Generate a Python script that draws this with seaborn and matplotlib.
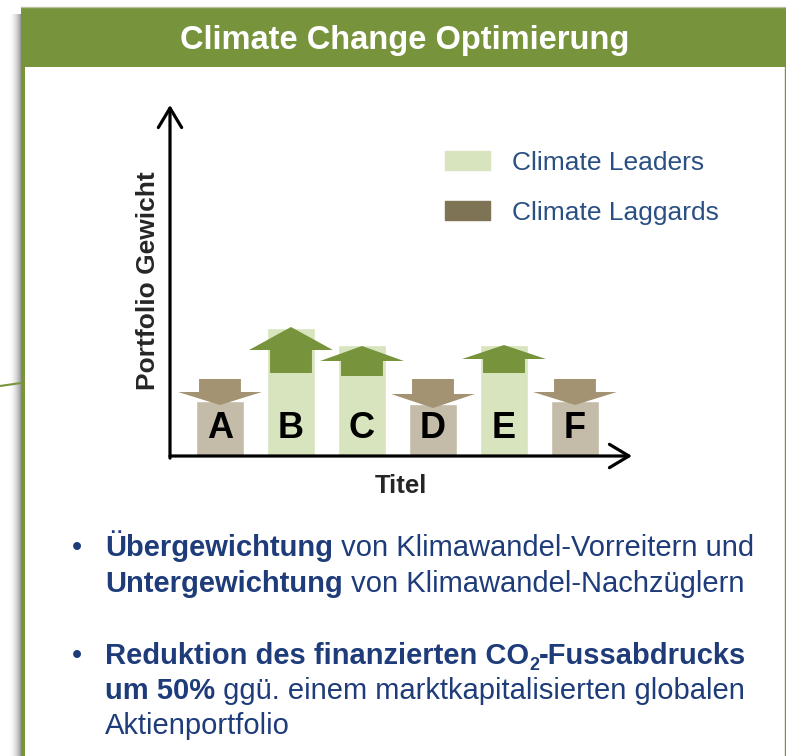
# plot.py
import seaborn as sns
import matplotlib.pyplot as plt
import pandas as pd
from matplotlib.patches import Rectangle, Patch

sns.set_style("white")
plt.rcParams['font.family'] = ['Liberation Sans', 'DejaVu Sans']

# data (portfolio weight, arbitrary units)
categories = ["A", "B", "C", "D", "E", "F"]
groups = ["Climate Laggards", "Climate Leaders", "Climate Leaders",
          "Climate Laggards", "Climate Leaders", "Climate Laggards"]
weights = [5.5, 12.8, 11.1, 5.2, 11.1, 5.5]
arrow_from = [7.7, 8.3, 8.0, 7.7, 8.3, 7.7]
arrow_to = [5.1, 12.9, 11.0, 4.8, 11.1, 5.1]
head_len = [1.3, 2.3, 1.5, 1.4, 1.4, 1.3]

legend_labels = ["Climate Leaders", "Climate Laggards"]
title = "Climate Change Optimierung"

GREEN = "#77933C"
LEADER_BAR = "#D7E4BD"
LAGGARD_BAR = "#C4BCA9"
LAGGARD_ARROW = "#A39372"
LAGGARD_LEGEND = "#7F7355"
BLUE = "#1F3C7A"

df = pd.DataFrame({"Titel": categories, "Gewicht": weights, "Gruppe": groups})

W, H = 786, 756
fig = plt.figure(figsize=(W / 100, H / 100), dpi=100)

# background layer in pixel coordinates
bg = fig.add_axes([0, 0, 1, 1], zorder=0)
bg.set_xlim(0, W)
bg.set_ylim(H, 0)
bg.axis("off")

# shadow left of the panel
for i in range(13):
    g = 1.0 - 0.38 * (i / 12) ** 2
    bg.add_patch(Rectangle((8 + i, 14), 1, H, color=(g, g, g), lw=0))
# header
bg.add_patch(Rectangle((21, 7), W - 21, 60, color=GREEN, lw=0))
bg.plot([21, W], [7, 7], color="#B9C59E", lw=1)
# left / right borders
bg.add_patch(Rectangle((21, 67), 4, H - 67, color=GREEN, lw=0))
bg.plot([785, 785], [67, H], color=GREEN, lw=1)
# connector line on the left
bg.plot([0, 21], [386, 383], color=GREEN, lw=1.5)

bg.text(405, 40, title, color="white", fontsize=23.5, weight="bold",
        ha="center", va="center")

# chart
ax = fig.add_axes([170 / W, 1 - 456 / H, 462 / W, 351 / H], zorder=1)
ax.set_facecolor("none")
sns.barplot(data=df, x="Titel", y="Gewicht", hue="Gruppe", order=categories,
            palette={"Climate Leaders": LEADER_BAR, "Climate Laggards": LAGGARD_BAR},
            dodge=False, width=0.676, saturation=1, errorbar=None,
            legend=False, ax=ax, zorder=2)

for i, cat in enumerate(categories):
    col = GREEN if groups[i] == "Climate Leaders" else LAGGARD_ARROW
    ax.arrow(i, arrow_from[i], 0, arrow_to[i] - arrow_from[i], width=0.59,
             head_width=1.18, head_length=head_len[i], length_includes_head=True,
             fc=col, ec="none", zorder=3)
    ax.text(i, 2.75, cat, ha="center", va="center", fontsize=26,
            weight="bold", color="black", zorder=4)

ax.set_xlim(-0.704, 5.803)
ax.set_ylim(0, 35.1)
ax.set_xticks([])
ax.set_yticks([])
for s in ax.spines.values():
    s.set_visible(False)

arr = dict(arrowstyle="->,head_length=0.7,head_width=0.42", lw=2.3,
           color="black", mutation_scale=20, shrinkA=0, shrinkB=0)
ax.annotate("", xy=(1, 0), xytext=(0, 0), xycoords="axes fraction",
            arrowprops=arr, annotation_clip=False)
ax.annotate("", xy=(0, 1), xytext=(0, -0.006), xycoords="axes fraction",
            arrowprops=arr, annotation_clip=False)

ax.set_xlabel("Titel", fontsize=18.5, weight="bold", labelpad=13)
ax.set_ylabel("Portfolio Gewicht", fontsize=19, weight="bold")
ax.yaxis.set_label_coords(-0.022, 0.5)

handles = [Patch(color=LEADER_BAR), Patch(color=LAGGARD_LEGEND)]
bg.legend(handles, legend_labels, loc="upper left", bbox_to_anchor=(445, 151),
          bbox_transform=bg.transData, frameon=False, fontsize=19,
          labelcolor="#2A4F82", handlelength=1.7, handleheight=0.72,
          handletextpad=0.83, labelspacing=0.97, borderpad=0, borderaxespad=0)

# bullet text
FS = 21


def rich_line(x, y, parts):
    prev = None
    for txt, bold in parts:
        kw = dict(fontsize=FS, color=BLUE, weight="bold" if bold else "normal")
        if prev is None:
            prev = bg.text(x, y, txt, ha="left", va="baseline", **kw)
        else:
            prev = bg.annotate(txt, xy=(1, 0), xycoords=prev, ha="left",
                               va="bottom", **kw)
    return prev


bg.text(72, 556, "•", fontsize=FS, color=BLUE, ha="left", va="baseline")
rich_line(105, 556, [("Übergewichtung", True), (" von Klimawandel-Vorreitern und", False)])
rich_line(105, 592, [("Untergewichtung", True), (" von Klimawandel-Nachzüglern", False)])

bg.text(72, 664, "•", fontsize=FS, color=BLUE, ha="left", va="baseline")
t1 = bg.text(105, 664, "Reduktion des finanzierten CO", fontsize=FS, color=BLUE,
             weight="bold", ha="left", va="baseline")
t2 = bg.annotate("2", xy=(1, 0), xycoords=t1, xytext=(0, -3),
                 textcoords="offset points", fontsize=13, color=BLUE,
                 weight="bold", ha="left", va="bottom")
bg.annotate("-Fussabdrucks", xy=(1, 0), xycoords=(t2, t1), fontsize=FS,
            color=BLUE, weight="bold", ha="left", va="bottom")
rich_line(105, 699, [("um 50%", True), (" ggü. einem marktkapitalisierten globalen", False)])
rich_line(105, 734, [("Aktienportfolio", False)])

fig.savefig("out.png", dpi=100)
plt.close(fig)
